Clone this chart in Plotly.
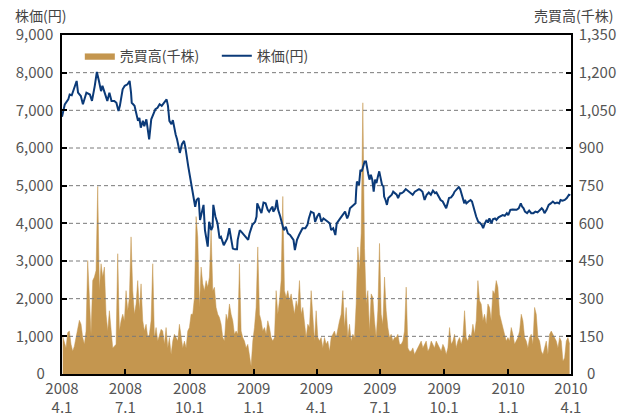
import plotly.graph_objects as go
import pandas as pd

START = "2008-04-01"
END = "2010-04-01"

# Stock price (yen): day offset from 2008-04-01 and value
price_days = [0, 4, 9, 11, 14, 17, 21, 23, 27, 30, 35, 40, 43, 47, 50, 53, 56, 58, 62, 65,
              68, 71, 75, 78, 81, 83, 87, 90, 94, 97, 99,
              100, 104, 107, 109, 111, 113, 116, 118, 121, 123, 125, 128, 132, 134, 137, 140, 143, 146, 150, 152,
              154, 157, 159, 163, 165, 169, 172, 175, 177, 181, 184, 186, 188,
              191, 193, 196, 198, 201, 203, 205, 208, 209, 211, 214, 216, 217, 220, 223, 226, 228, 232, 234, 237,
              240, 242, 245, 248,
              251, 252, 255, 257, 261, 264, 267, 269, 273, 277, 279, 280, 283, 286, 289, 292, 295, 297, 300, 302,
              303, 306, 308, 310, 313, 316, 318, 321, 324, 327, 329, 332, 334, 337, 340, 343, 345, 349, 352, 354,
              357, 361, 363, 366, 369, 372, 375, 378, 381, 384, 386, 389, 392, 394, 399, 403, 406, 409, 411, 413, 416,
              419, 421, 422, 423, 426, 428, 430, 432, 434, 436, 437, 439, 441, 443, 445, 447, 449, 451, 453, 455,
              457, 459, 461, 462, 464, 466, 468, 470, 473, 475, 477, 480, 482, 485, 487, 490, 493, 497, 500, 503,
              506, 509, 512, 514, 517, 520, 523, 526, 529, 532, 535, 537, 540, 543, 546, 549, 551, 553, 555, 558,
              561, 563, 566, 569, 571, 573, 575, 577,
              578, 580, 583, 586, 588, 590, 592, 594, 597, 599, 602, 604, 606, 609, 611, 613, 616, 618, 621, 623,
              626, 629, 632, 635, 638, 640, 643, 646, 649, 652, 655, 658, 660, 662, 664, 667, 670, 673, 676, 679,
              682, 685, 688, 690, 692, 695, 698, 701, 704, 707, 710, 713, 715, 718, 721, 724, 727, 729]
price_values = [6830, 7160, 7290, 7420, 7400, 7560, 7780, 7470, 7380, 7160, 7470, 7420, 7250, 7650, 8020, 7780, 7510, 7650, 7380, 7250,
                7470, 7250, 7250, 7200, 6980, 7120, 7560, 7650, 7690, 7780, 7470,
                7200, 7120, 6890, 6720, 6800, 6540, 6720, 6580, 6760, 6450, 6230, 6760, 6940, 7030, 7070, 7160, 7120, 7200, 7290, 7120,
                6720, 6630, 6740, 6360, 6230, 5870, 6100, 6190, 6010, 5520, 5160, 4940, 4760,
                4440, 4620, 4670, 4090, 4310, 4490, 3820, 3560, 3380, 4040, 3820, 3910, 4490, 4180, 4000, 3600, 3640, 3420, 3510, 3600,
                3870, 3640, 3330, 3310,
                3310, 3560, 3820, 3780, 3690, 3600, 3560, 3730, 3960, 4040, 4180, 4530, 4400, 4270, 4550, 4530, 4360, 4310, 4400, 4440,
                4310, 4400, 4620, 4360, 4180, 3960, 3820, 3910, 3730, 3690, 3640, 3560, 3290, 3560, 3690, 3780, 3870, 3870, 3960, 4130,
                4310, 4270, 4040, 4180, 4270, 4040, 4130, 4090, 4040, 4000, 3820, 3870, 3690, 4000, 4130, 4220, 4310, 4130, 4220, 4400, 4440,
                4480, 4530, 4890, 5110, 5020, 5420, 5380, 5510, 5640, 5640, 5510, 5330, 5160, 5290, 5160, 4840, 5160, 5070, 5240, 5380,
                5200, 5020, 4980, 4710, 4620, 4490, 4670, 4710, 4760, 4840, 4800, 4760, 4670, 4800, 4800, 4840, 4910, 4840, 4800, 4760,
                4840, 4870, 4910, 4890, 4840, 4620, 4760, 4820, 4760, 4870, 4800, 4820, 4710, 4620, 4580, 4490, 4400, 4530, 4670, 4690,
                4760, 4840, 4910, 4960, 4910, 4760, 4620, 4530,
                4620, 4530, 4580, 4620, 4580, 4440, 4270, 4180, 4040, 4020, 3960, 3870, 3980, 4090, 4020, 4130, 4000, 4110, 4130, 4090,
                4160, 4180, 4220, 4200, 4270, 4220, 4360, 4370, 4370, 4360, 4400, 4530, 4440, 4400, 4310, 4270, 4340, 4270, 4270, 4310,
                4290, 4360, 4400, 4360, 4270, 4360, 4490, 4530, 4580, 4530, 4550, 4530, 4620, 4600, 4620, 4670, 4760, 4740]

# Trading volume (thousand shares), evenly sampled between these dates
volume_first = "2008-04-02"
volume_last = "2010-03-30"
volume_values = [150, 131, 104, 165, 171, 118, 91, 111, 145, 171,
                 214, 198, 145, 118, 171, 452, 305, 158, 372, 386,
                 412, 747, 332, 439, 386, 426, 238, 171, 252, 185,
                 104, 111, 118, 479, 171, 212, 238, 212, 332, 252,
                 305, 546, 332, 238, 279, 372, 252, 359, 212, 171,
                 198, 145, 158, 212, 439, 145, 185, 131, 158, 178,
                 171, 118, 185, 104, 145, 78, 131, 158, 145, 131,
                 198, 158, 104, 131, 104, 171, 185, 238, 238, 305,
                 627, 546, 265, 426, 359, 332, 372, 345, 386, 573,
                 332, 345, 265, 238, 225, 198, 145, 131, 238, 212,
                 279, 238, 212, 158, 171, 158, 439, 171, 145, 131,
                 104, 118, 78, 31, 131, 185, 265, 506, 238, 212,
                 171, 185, 158, 212, 185, 145, 131, 145, 332, 238,
                 292, 372, 707, 332, 305, 332, 292, 319, 279, 238,
                 292, 265, 372, 238, 265, 198, 145, 198, 185, 332,
                 212,
                 131, 252, 145, 131, 145, 104, 145, 118, 131, 91,
                 145, 158, 171, 145, 185, 212, 238, 332, 185, 265,
                 145, 198, 131, 158, 145, 279, 506, 412, 560, 1080,
                 500, 280, 332, 171, 319, 305, 212, 145, 252, 520,
                 238, 198, 386, 252, 185, 145, 158, 131, 145, 145,
                 158, 118, 118, 131, 171, 346, 104, 91, 91, 104,
                 78, 91, 104, 118, 131, 104, 118, 131, 91, 104,
                 131, 118, 104, 131, 118, 104, 91, 118, 104, 78,
                 104, 185, 118, 131, 158, 104, 131, 145, 118, 145,
                 252, 145, 131, 158, 145, 198, 158, 212, 372, 292,
                 278, 212, 238, 198, 279, 265, 212, 332, 319, 372,
                 345, 238, 212, 185, 158, 131, 145, 131, 185, 158,
                 118, 131, 145, 171, 238, 212, 145, 131, 104, 145,
                 158, 118, 265, 238, 145, 131, 91, 78, 104, 131,
                 78, 158, 171, 158, 145, 131, 104, 145, 131, 51,
                 64, 131, 145, 118]

x_tick_dates = ["2008-04-01", "2008-07-01", "2008-10-01", "2009-01-01", "2009-04-01",
                "2009-07-01", "2009-10-01", "2010-01-01", "2010-04-01"]
x_tick_labels = ["2008<br>4.1", "2008<br>7.1", "2008<br>10.1", "2009<br>1.1", "2009<br>4.1",
                 "2009<br>7.1", "2009<br>10.1", "2010<br>1.1", "2010<br>4.1"]
price_ticks = [0, 1000, 2000, 3000, 4000, 5000, 6000, 7000, 8000, 9000]
volume_ticks = [0, 150, 300, 450, 600, 750, 900, 1050, 1200, 1350]

price_name = "株価(円)"
volume_name = "売買高(千株)"

FONT = "Noto Sans CJK JP"
TICK_COLOR = "#555555"
VOL_COLOR = "#C4964F"
LINE_COLOR = "#0B3A78"
FIG_SPACE = "\u2007"

price_dates = pd.Timestamp(START) + pd.to_timedelta(price_days, unit="D")
volume_dates = pd.date_range(volume_first, volume_last, periods=len(volume_values))

# zero labels sit slightly away from the corner, as in the original
price_ticktext = [f"{v:,}" if v else "0" + FIG_SPACE for v in price_ticks]
volume_ticktext = [f"{v:,}" if v else FIG_SPACE + "0" for v in volume_ticks]

fig = go.Figure()

# Volume area (primary y axis, drawn on the right)
fig.add_trace(go.Scatter(
    x=volume_dates, y=volume_values, name=volume_name,
    mode="lines", fill="tozeroy", fillcolor=VOL_COLOR,
    line=dict(color=VOL_COLOR, width=0.5), yaxis="y",
))

# Dashed horizontal gridlines (drawn above the area, below the price line)
gx, gy = [], []
for v in volume_ticks[1:-1]:
    gx += [START, END, None]
    gy += [v, v, None]
fig.add_trace(go.Scatter(
    x=gx, y=gy, mode="lines", showlegend=False, hoverinfo="skip",
    line=dict(color="#7a7a7a", width=1, dash="4px,3px"), yaxis="y",
))

# Price line (overlay axis on the left)
fig.add_trace(go.Scatter(
    x=price_dates, y=price_values, name=price_name,
    mode="lines", line=dict(color=LINE_COLOR, width=2), yaxis="y2",
))

tickfont = dict(family=FONT, size=15, color=TICK_COLOR)

fig.update_layout(
    width=621, height=420,
    margin=dict(l=62, r=50, t=35, b=46),
    paper_bgcolor="white", plot_bgcolor="white",
    font=dict(family=FONT, color=TICK_COLOR),
    showlegend=True,
    legend=dict(
        orientation="h", x=0.035, y=0.985, xanchor="left", yanchor="top",
        font=dict(family=FONT, size=14, color="#444444"),
        bgcolor="rgba(0,0,0,0)", entrywidth=92, itemwidth=30,
    ),
    xaxis=dict(
        type="date", range=[START, END], automargin=False,
        tickmode="array", tickvals=x_tick_dates, ticktext=x_tick_labels,
        ticks="inside", ticklen=5, tickcolor="black", tickwidth=1.5,
        showline=True, linecolor="black", linewidth=1.5, mirror=True,
        showgrid=False, zeroline=False, tickfont=tickfont,
    ),
    yaxis=dict(
        side="right", range=[0, 1350], automargin=False,
        tickmode="array", tickvals=volume_ticks, ticktext=volume_ticktext,
        ticks="inside", ticklen=5, tickcolor="black", tickwidth=1.5,
        showline=True, linecolor="black", linewidth=1.5,
        showgrid=False, zeroline=False, tickfont=tickfont,
        ticklabelstandoff=3,
    ),
    yaxis2=dict(
        overlaying="y", side="left", range=[0, 9000], automargin=False,
        tickmode="array", tickvals=price_ticks, ticktext=price_ticktext,
        ticks="inside", ticklen=5, tickcolor="black", tickwidth=1.5,
        showline=True, linecolor="black", linewidth=1.5,
        showgrid=False, zeroline=False, tickfont=tickfont,
        ticklabelstandoff=4,
    ),
    annotations=[
        dict(text=price_name, xref="paper", yref="paper", x=-0.096, y=1.06,
             xanchor="left", yanchor="middle", showarrow=False,
             font=dict(family=FONT, size=14, color="#444444")),
        dict(text=volume_name, xref="paper", yref="paper", x=1.086, y=1.06,
             xanchor="right", yanchor="middle", showarrow=False,
             font=dict(family=FONT, size=14, color="#444444")),
    ],
)

fig.write_html("out.html", config={"displayModeBar": False},
               post_script="document.body.style.margin='0';")
